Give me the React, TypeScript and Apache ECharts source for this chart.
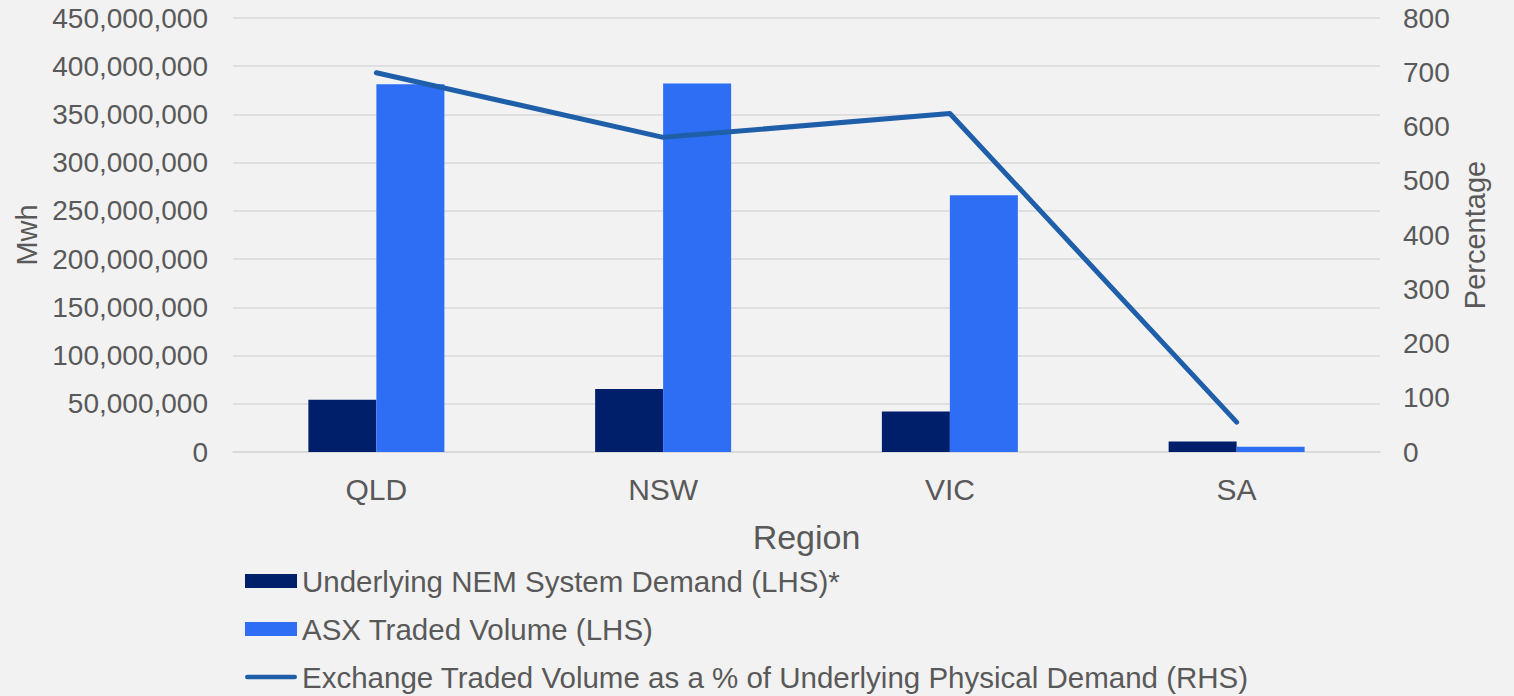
import React, { useEffect, useRef } from "react";
import * as echarts from "echarts";

const categories = ["QLD", "NSW", "VIC", "SA"];
const nemDemand = [54200000, 65200000, 42000000, 11000000];
const asxVolume = [381300000, 382100000, 266100000, 5500000];
const pctOfDemand = [699, 580, 624, 55];

const leftTicks = { min: 0, max: 450000000, interval: 50000000 };
const rightTicks = { min: 0, max: 800, interval: 100 };

const FONT = "'Liberation Sans', Arial, sans-serif";
const TEXT = "#595959";

export default function App() {
  const ref = useRef<HTMLDivElement>(null);
  useEffect(() => {
    document.body.style.margin = "0";
    const chart = echarts.init(ref.current!, null, { renderer: "svg" });
    chart.setOption({
      animation: false,
      backgroundColor: "#f2f2f2",
      textStyle: { fontFamily: FONT, color: TEXT },
      grid: { left: 233, right: 134, top: 18, bottom: 244, containLabel: false },
      legend: {
        orient: "vertical",
        left: 245,
        top: 566,
        height: 160,
        padding: 0,
        itemWidth: 52,
        itemHeight: 14,
        itemGap: 18,
        textStyle: { fontSize: 29.5, color: TEXT, fontFamily: FONT },
        data: [
          { name: "Underlying NEM System Demand (LHS)*", icon: "rect" },
          { name: "ASX Traded Volume (LHS)", icon: "rect" },
          {
            name: "Exchange Traded Volume as a % of Underlying Physical Demand (RHS)",
            icon: "path://M2.5,0 L53.5,0 A2.5,2.5 0 0 1 53.5,5 L2.5,5 A2.5,2.5 0 0 1 2.5,0 Z",
          },
        ],
      },
      xAxis: {
        type: "category",
        data: categories,
        name: "Region",
        nameLocation: "middle",
        nameGap: 68,
        nameTextStyle: { fontSize: 34, color: TEXT, fontFamily: FONT },
        axisLine: { show: true, lineStyle: { color: "#d9d9d9", width: 1.5 } },
        axisTick: { show: false },
        axisLabel: { fontSize: 30, color: TEXT, margin: 22, fontFamily: FONT },
      },
      yAxis: [
        {
          type: "value",
          min: leftTicks.min,
          max: leftTicks.max,
          interval: leftTicks.interval,
          name: "Mwh",
          nameLocation: "middle",
          nameGap: 191,
          nameRotate: 90,
          nameTextStyle: { fontSize: 29, color: TEXT, fontFamily: FONT },
          axisLine: { show: false },
          axisTick: { show: false },
          axisLabel: {
            fontSize: 28,
            color: TEXT,
            margin: 25,
            fontFamily: FONT,
            formatter: (v: number) => v.toLocaleString("en-US"),
          },
          splitLine: { show: true, lineStyle: { color: "#d9d9d9", width: 1.5 } },
        },
        {
          type: "value",
          min: rightTicks.min,
          max: rightTicks.max,
          interval: rightTicks.interval,
          name: "Percentage",
          nameLocation: "middle",
          nameGap: 78,
          nameRotate: 90,
          nameTextStyle: { fontSize: 29, color: TEXT, fontFamily: FONT },
          axisLine: { show: false },
          axisTick: { show: false },
          axisLabel: { fontSize: 28, color: TEXT, margin: 23, fontFamily: FONT },
          splitLine: { show: false },
        },
      ],
      series: [
        {
          name: "Underlying NEM System Demand (LHS)*",
          type: "bar",
          data: nemDemand,
          barWidth: 68,
          barGap: "0%",
          itemStyle: { color: "#001F6B" },
          yAxisIndex: 0,
        },
        {
          name: "ASX Traded Volume (LHS)",
          type: "bar",
          data: asxVolume,
          barWidth: 68,
          barGap: "0%",
          itemStyle: { color: "#2E6EF5" },
          yAxisIndex: 0,
        },
        {
          name: "Exchange Traded Volume as a % of Underlying Physical Demand (RHS)",
          type: "line",
          data: pctOfDemand,
          yAxisIndex: 1,
          symbol: "none",
          z: 5,
          itemStyle: { color: "#1F5FAA" },
          lineStyle: { color: "#1F5FAA", width: 5, cap: "round", join: "round" },
        },
      ],
    });
    return () => chart.dispose();
  }, []);
  return <div ref={ref} style={{ width: 1514, height: 696 }} />;
}
